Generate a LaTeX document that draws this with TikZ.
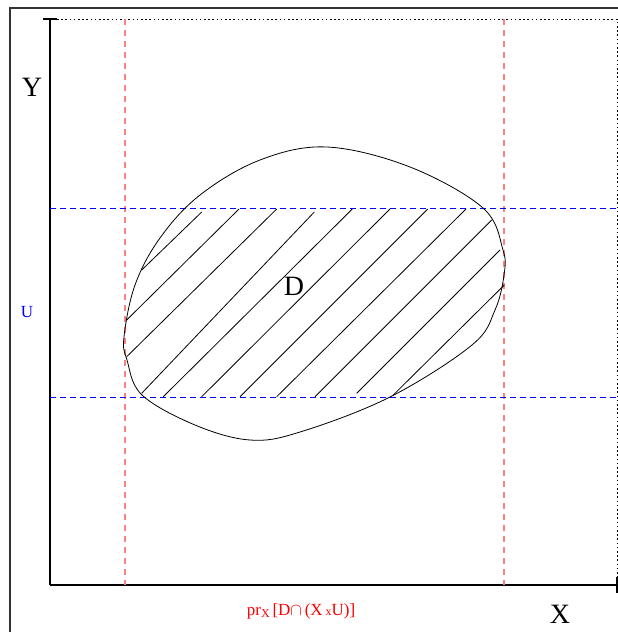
\documentclass[tikz,border=0pt]{standalone}
\usepackage{fontspec}
\setmainfont{Liberation Serif}

\begin{document}
\begin{tikzpicture}[x=1pt,y=-1pt,
  axis/.style={black,line width=1.2pt},
  guide/.style={black,line width=1pt,dash pattern=on 1.6pt off 2.6pt},
  prx/.style={red!50,line width=1.6pt,dash pattern=on 6pt off 5pt},
  stripe/.style={blue,line width=1pt,dash pattern=on 6pt off 4pt},
  hatch/.style={black,line width=0.8pt},
  big/.style={font=\fontsize{28}{30}\selectfont,inner sep=0pt},
  lab/.style={inner sep=0pt,font=\fontsize{17}{19}\selectfont}]
\useasboundingbox (0,0) rectangle (618,632);

% outer frame
\begin{scope}
\clip (0,0) rectangle (618,632);
\draw[black!80,line width=1.2pt] (10,8) rectangle (660,680);
\end{scope}

% axes with the dotted closing of the square
\coordinate (o) at (50,585); \coordinate (ytop) at (50,19); \coordinate (xend) at (617,585);
\draw[axis] (o) -- (ytop); \draw[axis] (43,19) -- (57,19);
\draw[axis] (o) -- (xend); \draw[axis] (617,577) -- (617,593);
\draw[guide] (57,19) -- (617,19) -- (617,577);

% projection of the strip onto X
\draw[prx] (125,19) -- (125,585);
\draw[prx] (504,19) -- (504,585);

% the strip X x U
\draw[stripe] (50,208) -- (618,208);
\draw[stripe] (50,397) -- (618,397);

% region D
\draw[black,line width=0.8pt] plot[smooth cycle,tension=0.6] coordinates {
  (327,147) (410,167) (483,208) (503,250) (504,275) (495,310) (472,345)
  (390,397) (300,432) (250,440) (195,425) (142,395) (127,360) (124,337)
  (135,285) (160,238) (200,195) (260,160)};

% hatching of D inside the strip
\foreach \xa/\ya/\xb/\yb in {201.7/212/141.7/270, 239/209/126.7/320, 276.7/209/126.7/356.7,
  314.3/212/141.7/393.3, 352.3/209/163.3/396.7, 390/209/201.7/396.7, 427.7/209/240/396.7,
  466/209/276.7/396.7, 491.7/220/315/396.7, 500/250/356.7/393.3, 504.3/285/393.3/395}
  \draw[hatch] (\xa,\ya) -- (\xb,\yb);

% labels
\node[big] (ylab) at (32,87) {Y};
\node[big] (xlab) at (560,614) {X};
\node[big] (dlab) at (294,286) {D};
\node[lab,text=blue] (ulab) at (27,312) {U};
\node[lab,text=red] (plab) at (301,611)
  {pr\raisebox{-0.3ex}{\fontsize{12}{13}\selectfont X}\,[D{\fontsize{16}{17}\selectfont$\cap$}\,(X\,{\fontsize{12}{13}\selectfont x}U)]};
\end{tikzpicture}
\end{document}
